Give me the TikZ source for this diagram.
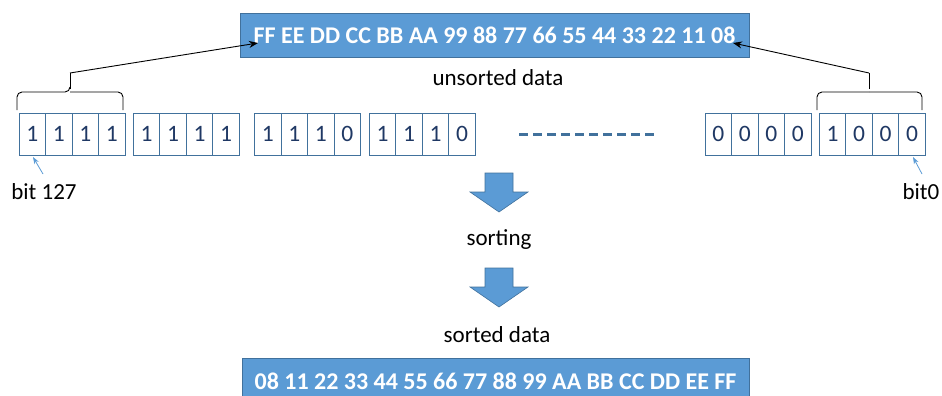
\documentclass[tikz,border=0pt]{standalone}
\usepackage{fontspec}
\setmainfont{Carlito}
\usetikzlibrary{arrows.meta}
\definecolor{boxfill}{HTML}{5B9BD5}
\definecolor{boxline}{HTML}{41719C}
\definecolor{digit}{HTML}{1F3864}
\tikzset{
  databox/.style={draw=boxline, fill=boxfill, line width=0.8pt, text=white, font=\fontsize{24}{27}\selectfont\bfseries, inner sep=0pt},
  cell/.style={draw=boxline, line width=0.8pt, minimum width=26.5pt, minimum height=42pt, inner sep=0pt, text=digit, font=\fontsize{23.5}{26}\selectfont},
  lbl/.style={font=\fontsize{23}{26}\selectfont, text=black, inner sep=0pt},
  brace/.style={draw=black, line width=0.9pt, rounded corners=5pt},
  link/.style={draw=black, line width=0.9pt, -{Stealth[length=9pt,width=7pt]}},
  bitarrow/.style={draw=boxfill, line width=0.8pt, -{Stealth[length=7pt,width=5pt]}},
  blockarrow/.style={draw=boxline, fill=boxfill, line width=0.6pt},
  dots/.style={draw=boxline, line width=2.2pt, dash pattern=on 9pt off 5pt}
}
\begin{document}
\begin{tikzpicture}[x=1pt,y=-1pt]
\useasboundingbox (0,0) rectangle (942,396);
% top unsorted data box
\node[databox, minimum width=509pt, minimum height=44pt] (top) at (494.5,35) {FF EE DD CC BB AA 99 88 77 66 55 44 33 22 11 08};
\node[lbl] (unsorted) at (498,78) {unsorted data};
% cells
\foreach \g/\x/\d in {1/19/{1,1,1,1}, 2/133.3/{1,1,1,1}, 3/254.7/{1,1,1,0}, 4/369.3/{1,1,1,0}, 5/705/{0,0,0,0}, 6/819.3/{1,0,0,0}} {
  \foreach \v [count=\i from 0] in \d {
    \node[cell] (c\g-\i) at ({\x+13.25+26.5*\i},134) {\v};
  }
}
% dashed line
\coordinate (d1) at (519,134.5);
\coordinate (d2) at (657,134.5);
\draw[dots] (d1) -- (d2);
% braces
\coordinate (lb) at (70,73);
\coordinate (rb) at (869,73);
\draw[brace] (17,110) -- (17,92) -- (70,92) -- (70,87);
\draw[brace] (123,110) -- (123,92) -- (70,92);
\draw[line width=0.9pt] (70,89) -- (lb);
\draw[brace] (817,110) -- (817,92) -- (869,92);
\draw[brace] (922,110) -- (922,92) -- (869,92);
\draw[line width=0.9pt] (869,89) -- (rb);
% links to top box
\coordinate (lt) at (258,43);
\coordinate (rt) at (733,43);
\draw[link] (lb) -- (lt);
\draw[link] (rb) -- (rt);
% bit labels
\node[lbl] (b127) at (44,192) {bit 127};
\node[lbl] (b0) at (921,192) {bit0};
\coordinate (b127s) at (43,174);
\coordinate (b0s) at (922,174);
\coordinate (b127e) at (33,157);
\coordinate (b0e) at (913,157);
\draw[bitarrow] (b127s) -- (b127e);
\draw[bitarrow] (b0s) -- (b0e);
% block arrows
\draw[blockarrow] (485,173) -- (513,173) -- (513,192) -- (528,192) -- (499,212) -- (470,192) -- (485,192) -- cycle;
\node[lbl] (sorting) at (499,240) {sorting};
\draw[blockarrow] (485,268) -- (513,268) -- (513,287) -- (528,287) -- (499,307) -- (470,287) -- (485,287) -- cycle;
\node[lbl] (sorted) at (497,335) {sorted data};
% bottom sorted box
\node[databox, minimum width=507pt, minimum height=46pt] (bot) at (495.5,381) {08 11 22 33 44 55 66 77 88 99 AA BB CC DD EE FF};
\end{tikzpicture}
\end{document}
